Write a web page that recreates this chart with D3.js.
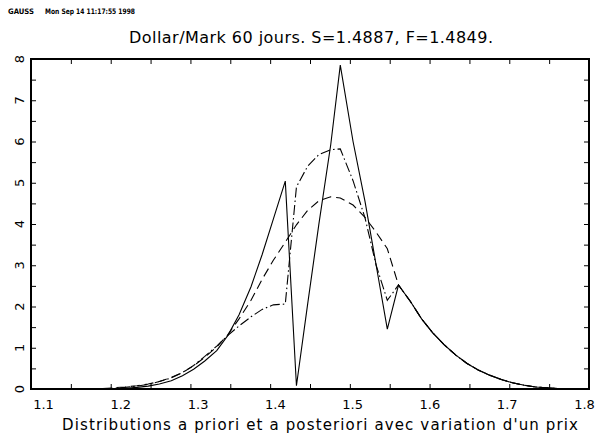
<!DOCTYPE html>
<html>
<head>
<meta charset="utf-8">
<script src="https://cdn.jsdelivr.net/npm/d3@7"></script>
<style>
	body { margin: 0; background: #fff; }
	svg { display: block; }
	text { font-family: "DejaVu Sans", sans-serif; fill: #000; }
</style>
</head>
<body>
<div id="chart"></div>
<script>
// price grid (x) shared by the three curves
const priceGrid = [1.190, 1.204, 1.218, 1.233, 1.247, 1.261, 1.276, 1.290, 1.304, 1.318,
	1.333, 1.347, 1.361, 1.376, 1.390, 1.404, 1.419, 1.433, 1.447, 1.461,
	1.476, 1.488, 1.504, 1.519, 1.533, 1.547, 1.561, 1.576, 1.590, 1.604,
	1.619, 1.633, 1.647, 1.661, 1.676, 1.690, 1.704, 1.719, 1.733, 1.747,
	1.761, 1.776, 1.790];

// density values up to 1.547, then the common right tail
const solidValues = [0.00, 0.01, 0.02, 0.04, 0.07, 0.12, 0.20, 0.32, 0.48, 0.68,
	0.93, 1.30, 1.80, 2.48, 3.26, 4.12, 5.04, 0.08, 2.05, 3.98,
	5.92, 7.85, 6.00, 4.55, 3.00, 1.45];
const dashedValues = [0.01, 0.03, 0.05, 0.08, 0.12, 0.18, 0.28, 0.40, 0.56, 0.77,
	1.02, 1.32, 1.70, 2.15, 2.66, 3.12, 3.56, 3.98, 4.33, 4.56,
	4.66, 4.63, 4.46, 4.16, 3.80, 3.40];
const dashDotValues = [0.00, 0.02, 0.04, 0.07, 0.11, 0.18, 0.27, 0.40, 0.57, 0.79,
	1.04, 1.30, 1.53, 1.75, 1.93, 2.04, 2.06, 4.90, 5.40, 5.68,
	5.80, 5.82, 5.05, 4.15, 3.00, 2.15];
const tailValues = [2.95, 2.52, 2.12, 1.70, 1.36, 1.06, 0.82, 0.62, 0.46, 0.33,
	0.23, 0.15, 0.09, 0.05, 0.03, 0.01, 0.00];

const xTickLabels = [1.1, 1.2, 1.3, 1.4, 1.5, 1.6, 1.7, 1.8];
const xMinorTicks = d3.range(0, 15).map(i => +(1.1 + i * 0.05).toFixed(2));
const yTickLabels = [0, 1, 2, 3, 4, 5, 6, 7, 8];
const yMinorTicks = d3.range(0, 17).map(i => i * 0.5);

const headerText = ['GAUSS', 'Mon Sep 14 11:17:55 1998'];
const titleText = 'Dollar/Mark 60 jours. S=1.4887, F=1.4849.';
const xAxisTitle = "Distributions a priori et a posteriori avec variation d'un prix";

const width = 600, height = 434;
const frame = {left: 31, right: 589, top: 59, bottom: 389};

const _series = (values) => priceGrid
	.map((p, i) => ({x: p, y: i < values.length ? values[i] : tailValues[i - values.length + 1]}));

const svg = d3.select('#chart')
	.append('svg')
	.attr('width', width)
	.attr('height', height);

const xScale = d3.scaleLinear().domain([1.1, 1.8]).range([frame.left, frame.right]);
const yScale = d3.scaleLinear().domain([0, 8]).range([frame.bottom, frame.top]);
// GAUSS spreads its x labels a little inside the frame ends
const xLabelScale = d3.scaleLinear().domain([1.1, 1.8]).range([43, 584]);

const _tickAxis = (axis, transform) => {
	svg.append('g')
		.attr('transform', transform)
		.call(axis.tickSize(-5).tickFormat(''))
		.call(g => g.select('.domain').remove())
		.selectAll('line')
			.attr('stroke', '#000')
			.attr('stroke-width', 1);
};

_tickAxis(d3.axisBottom(xScale).tickValues(xMinorTicks), `translate(0, ${frame.bottom})`);
_tickAxis(d3.axisTop(xScale).tickValues(xMinorTicks), `translate(0, ${frame.top})`);
_tickAxis(d3.axisLeft(yScale).tickValues(yMinorTicks), `translate(${frame.left}, 0)`);
_tickAxis(d3.axisRight(yScale).tickValues(yMinorTicks), `translate(${frame.right}, 0)`);

svg.append('rect')
	.attr('x', frame.left)
	.attr('y', frame.top)
	.attr('width', frame.right - frame.left)
	.attr('height', frame.bottom - frame.top)
	.attr('fill', 'none')
	.attr('stroke', '#000')
	.attr('stroke-width', 2);

// x tick labels
svg.append('g')
	.attr('transform', `translate(0, ${frame.bottom})`)
	.call(d3.axisBottom(xLabelScale).tickValues(xTickLabels).tickSize(0).tickPadding(11).tickFormat(d3.format('.1f')))
	.call(g => g.select('.domain').remove())
	.selectAll('text')
		.attr('font-size', 13)
		.attr('font-family', '"DejaVu Sans", sans-serif');

// y tick labels, rotated like the original
svg.append('g')
	.selectAll('text')
	.data(yTickLabels)
	.enter()
	.append('text')
		.attr('transform', d => `translate(24, ${yScale(d)}) rotate(-90)`)
		.attr('text-anchor', 'middle')
		.attr('font-size', 13)
		.text(d => d);

const line = d3.line()
	.x(d => xScale(d.x))
	.y(d => yScale(d.y));

const curves = [
	{values: dashedValues, dash: '9,5'},
	{values: dashDotValues, dash: '10,3,1.5,3'},
	{values: solidValues, dash: null}
];

svg.append('g')
	.selectAll('path')
	.data(curves)
	.enter()
	.append('path')
		.attr('d', d => line(_series(d.values)))
		.attr('fill', 'none')
		.attr('stroke', '#000')
		.attr('stroke-width', 1.1)
		.attr('stroke-dasharray', d => d.dash);

svg.append('text')
	.attr('x', 8)
	.attr('y', 14)
	.attr('font-size', 7.5)
	.attr('font-weight', 'bold')
	.attr('textLength', 26)
	.attr('lengthAdjust', 'spacingAndGlyphs')
	.text(headerText[0]);

svg.append('text')
	.attr('x', 45)
	.attr('y', 14)
	.attr('font-size', 7.5)
	.attr('font-weight', 'bold')
	.attr('textLength', 90)
	.attr('lengthAdjust', 'spacingAndGlyphs')
	.text(headerText[1]);

svg.append('text')
	.attr('x', 311)
	.attr('y', 43)
	.attr('text-anchor', 'middle')
	.attr('font-size', 16)
	.attr('textLength', 364)
	.text(titleText);

svg.append('text')
	.attr('x', 320)
	.attr('y', 430)
	.attr('text-anchor', 'middle')
	.attr('font-size', 15)
	.attr('textLength', 516)
	.text(xAxisTitle);
</script>
</body>
</html>
